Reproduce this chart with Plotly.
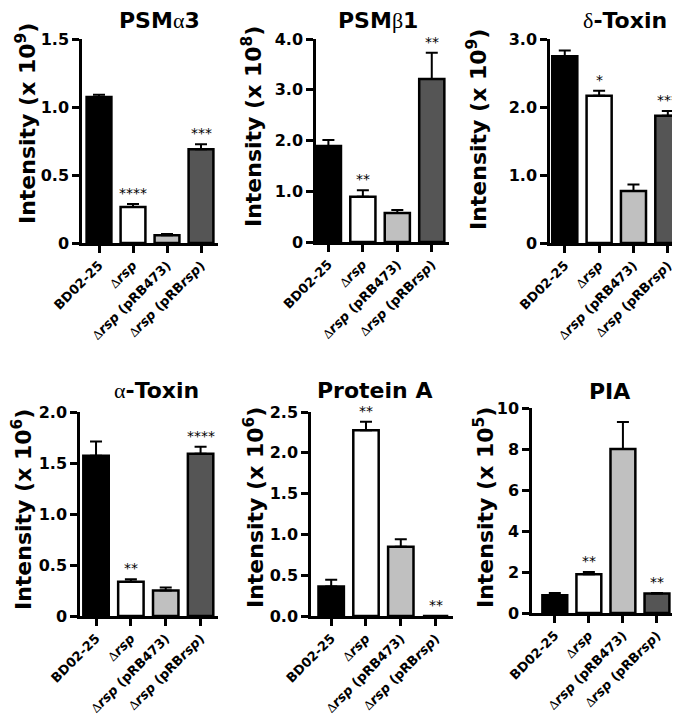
import plotly.graph_objects as go

W, H = 680, 715
FONT = "DejaVu Sans"
GREEK = "font-family:'Liberation Serif',serif;font-weight:normal"

categories = ["BD02-25", "Δrsp", "Δrsp (pRB473)", "Δrsp (pRBrsp)"]
cat_labels = [
    "BD02-25",
    f"<span style=\"{GREEK}\">Δ</span><i>rsp</i>",
    f"<span style=\"{GREEK}\">Δ</span><i>rsp</i> (pRB473)",
    f"<span style=\"{GREEK}\">Δ</span><i>rsp</i> (pRB<i>rsp</i>)",
]
bar_colors = ["#000000", "#ffffff", "#c0c0c0", "#555555"]

psma3 = [1.073, 0.265, 0.057, 0.69]
psma3_err = [0.017, 0.022, 0.009, 0.037]
psma3_stars = ["", "****", "", "***"]

psmb1 = [1.89, 0.89, 0.57, 3.21]
psmb1_err = [0.12, 0.13, 0.06, 0.52]
psmb1_stars = ["", "**", "", "**"]

delta_toxin = [2.745, 2.165, 0.765, 1.873]
delta_toxin_err = [0.085, 0.075, 0.095, 0.067]
delta_toxin_stars = ["", "*", "", "***"]

alpha_toxin = [1.57, 0.335, 0.25, 1.59]
alpha_toxin_err = [0.14, 0.025, 0.03, 0.07]
alpha_toxin_stars = ["", "**", "", "****"]

protein_a = [0.36, 2.275, 0.85, 0.0]
protein_a_err = [0.085, 0.105, 0.09, 0.0]
protein_a_stars = ["", "**", "", "**"]

pia = [0.86, 1.89, 8.0, 0.95]
pia_err = [0.12, 0.11, 1.32, 0.02]
pia_stars = ["", "**", "", "**"]

panels = [
    dict(title=f"PSM<span style=\"{GREEK}\">α</span>3", exp="9", vals=psma3, err=psma3_err, stars=psma3_stars,
         ymax=1.5, tickvals=[0, 0.5, 1.0, 1.5], ticktext=["0", "0.5", "1.0", "1.5"],
         dom=(74, 210, 31, 235), x0=-0.5, title_xy=(151, 12), ytitle_xy=(18, 116)),
    dict(title=f"PSM<span style=\"{GREEK}\">β</span>1", exp="8", vals=psmb1, err=psmb1_err, stars=psmb1_stars,
         ymax=4.0, tickvals=[0, 1, 2, 3, 4], ticktext=["0", "1.0", "2.0", "3.0", "4.0"],
         dom=(308, 441, 31, 234), x0=-0.36, title_xy=(370, 12), ytitle_xy=(244, 119)),
    dict(title=f"<span style=\"{GREEK}\">δ</span>-Toxin", exp="9", vals=delta_toxin, err=delta_toxin_err,
         stars=delta_toxin_stars,
         ymax=3.0, tickvals=[0, 1, 2, 3], ticktext=["0", "1.0", "2.0", "3.0"],
         dom=(542, 677, 31, 235), x0=-0.43, title_xy=(617, 12), ytitle_xy=(469, 122)),
    dict(title=f"<span style=\"{GREEK}\">α</span>-Toxin", exp="6", vals=alpha_toxin, err=alpha_toxin_err,
         stars=alpha_toxin_stars,
         ymax=2.0, tickvals=[0, 0.5, 1.0, 1.5, 2.0], ticktext=["0", "0.5", "1.0", "1.5", "2.0"],
         dom=(72, 210, 404, 608), x0=-0.46, title_xy=(148, 382), ytitle_xy=(14, 502)),
    dict(title="Protein A", exp="6", vals=protein_a, err=protein_a_err, stars=protein_a_stars,
         ymax=2.5, tickvals=[0, 0.5, 1.0, 1.5, 2.0, 2.5], ticktext=["0.0", "0.5", "1.0", "1.5", "2.0", "2.5"],
         dom=(303, 445, 404, 608), x0=-0.58, title_xy=(366, 382), ytitle_xy=(246, 500)),
    dict(title="PIA", exp="5", vals=pia, err=pia_err, stars=pia_stars,
         ymax=10, tickvals=[0, 2, 4, 6, 8, 10], ticktext=["0", "2", "4", "6", "8", "10"],
         dom=(524, 666, 400, 605), x0=-0.67, title_xy=(601, 383), ytitle_xy=(476, 499)),
]

fig = go.Figure()
annotations = []
layout = {}

for i, p in enumerate(panels):
    n = "" if i == 0 else str(i + 1)
    xa, ya = "x" + n, "y" + n
    x0px, x1px, y0px, y1px = p["dom"]
    fig.add_trace(go.Bar(
        x=list(range(len(categories))), y=p["vals"],
        xaxis=xa, yaxis=ya, width=0.73,
        marker=dict(color=bar_colors, line=dict(color="black", width=2.5)),
        error_y=dict(type="data", symmetric=False, array=p["err"], arrayminus=[0] * len(p["err"]),
                     color="black", thickness=2, width=6),
        showlegend=False, hoverinfo="skip",
    ))
    axis_common = dict(showline=True, linecolor="black", linewidth=2.5, ticks="outside",
                       ticklen=7, tickwidth=2.5, tickcolor="black", showgrid=False, zeroline=False,
                       automargin=False, fixedrange=True)
    layout["xaxis" + n] = dict(
        domain=[x0px / W, x1px / W], anchor=ya, range=[p["x0"], 3.5],
        tickvals=list(range(len(categories))), ticktext=cat_labels, tickangle=-45,
        tickfont=dict(family=FONT, size=13, color="black", weight="bold"), **axis_common)
    layout["yaxis" + n] = dict(
        domain=[1 - y1px / H, 1 - y0px / H], anchor=xa, range=[0, p["ymax"]],
        tickvals=p["tickvals"], ticktext=p["ticktext"],
        tickfont=dict(family=FONT, size=16, color="black", weight="bold"), **axis_common)
    tx, ty = p["title_xy"]
    annotations.append(dict(text=p["title"], x=tx / W, y=1 - ty / H, xref="paper", yref="paper",
                            showarrow=False, xanchor="center", yanchor="middle",
                            font=dict(family=FONT, size=22, color="black", weight="bold")))
    yx, yy = p["ytitle_xy"]
    annotations.append(dict(text=f"Intensity (x 10<sup>{p['exp']}</sup>)", x=yx / W, y=1 - yy / H,
                            xref="paper", yref="paper", textangle=-90, showarrow=False,
                            xanchor="center", yanchor="middle",
                            font=dict(family=FONT, size=22, color="black", weight="bold")))
    for j, s in enumerate(p["stars"]):
        if s:
            annotations.append(dict(text=s, x=j, y=p["vals"][j] + p["err"][j], xref=xa, yref=ya,
                                    showarrow=False, xanchor="center", yanchor="bottom", yshift=1,
                                    font=dict(family=FONT, size=14, color="black")))

fig.update_layout(
    width=W, height=H, margin=dict(l=0, r=0, t=0, b=0),
    paper_bgcolor="white", plot_bgcolor="white",
    annotations=annotations, **layout,
)

fig.write_html("out.html")
